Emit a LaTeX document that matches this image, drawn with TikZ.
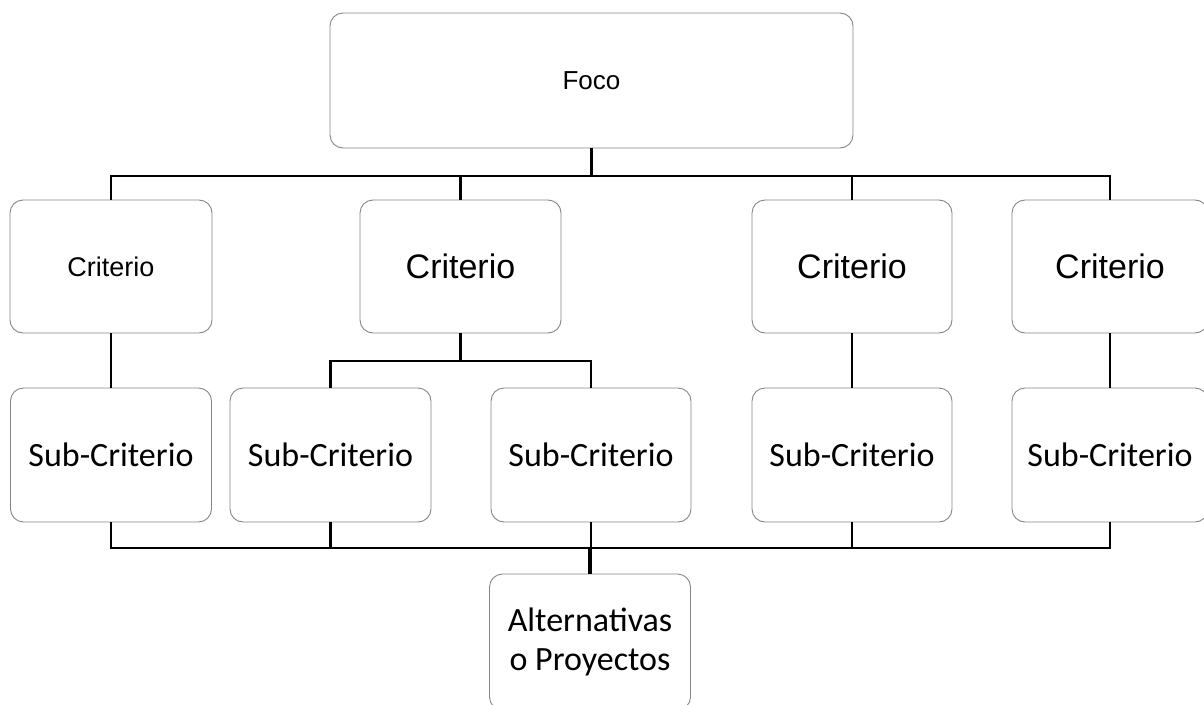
\documentclass[tikz,border=0pt]{standalone}
\usepackage{fontspec}
\setmainfont{Liberation Sans}
\newfontfamily\calibrifont{Carlito}
\begin{document}
\begin{tikzpicture}[x=1pt,y=-1pt,
  box/.style={draw=black!48, line width=0.9pt, rounded corners=13pt, fill=white,
    rectangle, inner sep=0pt, align=center, text=black},
  conn/.style={draw=black, line width=2.2pt},
  thickconn/.style={draw=black, line width=4.6pt},
  arialsmall/.style={font=\fontsize{26}{30}\selectfont},
  arialmid/.style={font=\fontsize{27}{31}\selectfont},
  arialbig/.style={font=\fontsize{34}{38}\selectfont},
  calibri/.style={font=\calibrifont\fontsize{34}{39}\selectfont}]
\useasboundingbox (0,0) rectangle (1204,704);
\clip (0,0) rectangle (1204,704);

% bus levels
\coordinate (bus1) at (591,176);
\coordinate (bus2) at (461,361);
\coordinate (bus3) at (591,548);

% focus
\node[box, arialsmall, minimum width=523pt, minimum height=135pt] (foco) at (591.5,80.5) {Foco};

% criteria
\node[box, arialmid, minimum width=202pt, minimum height=133pt] (c1) at (111,266.5) {Criterio};
\node[box, arialbig, minimum width=201pt, minimum height=133pt] (c2) at (460.5,266.5) {Criterio};
\node[box, arialbig, minimum width=200pt, minimum height=133pt] (c3) at (852,266.5) {Criterio};
\node[box, arialbig, minimum width=196pt, minimum height=133pt] (c4) at (1110,266.5) {Criterio};

% sub-criteria
\node[box, calibri, minimum width=201pt, minimum height=134pt] (s1) at (111,455) {Sub-Criterio};
\node[box, calibri, minimum width=201pt, minimum height=134pt] (s2) at (330.5,455) {Sub-Criterio};
\node[box, calibri, minimum width=200pt, minimum height=134pt] (s3) at (591,455) {Sub-Criterio};
\node[box, calibri, minimum width=200pt, minimum height=134pt] (s4) at (852,455) {Sub-Criterio};
\node[box, calibri, minimum width=196pt, minimum height=134pt] (s5) at (1110,455) {Sub-Criterio};

% alternatives
\node[box, calibri, minimum width=201pt, minimum height=136pt] (alt) at (590,642) {Alternativas\\o Proyectos};

% focus to criteria
\draw[conn] (foco.south) -- (foco.south |- bus1);
\draw[conn] (c1.north) -- (c1.north |- bus1) -- (c4.north |- bus1) -- (c4.north);
\draw[conn] (c2.north) -- (c2.north |- bus1);
\draw[conn] (c3.north) -- (c3.north |- bus1);

% criteria to sub-criteria
\draw[conn] (c1.south) -- (s1.north);
\draw[conn] (c2.south) -- (c2.south |- bus2);
\draw[conn] (s2.north) -- (s2.north |- bus2) -- (s3.north |- bus2) -- (s3.north);
\draw[conn] (c3.south) -- (s4.north);
\draw[conn] (c4.south) -- (s5.north);

% sub-criteria to alternatives
\draw[conn] (s1.south) -- (s1.south |- bus3) -- (s5.south |- bus3) -- (s5.south);
\draw[conn] (s2.south) -- (s2.south |- bus3);
\draw[conn] (s3.south) -- (s3.south |- bus3);
\draw[conn] (s4.south) -- (s4.south |- bus3);
\draw[thickconn] (alt.north) -- (alt.north |- bus3);
\end{tikzpicture}
\end{document}
